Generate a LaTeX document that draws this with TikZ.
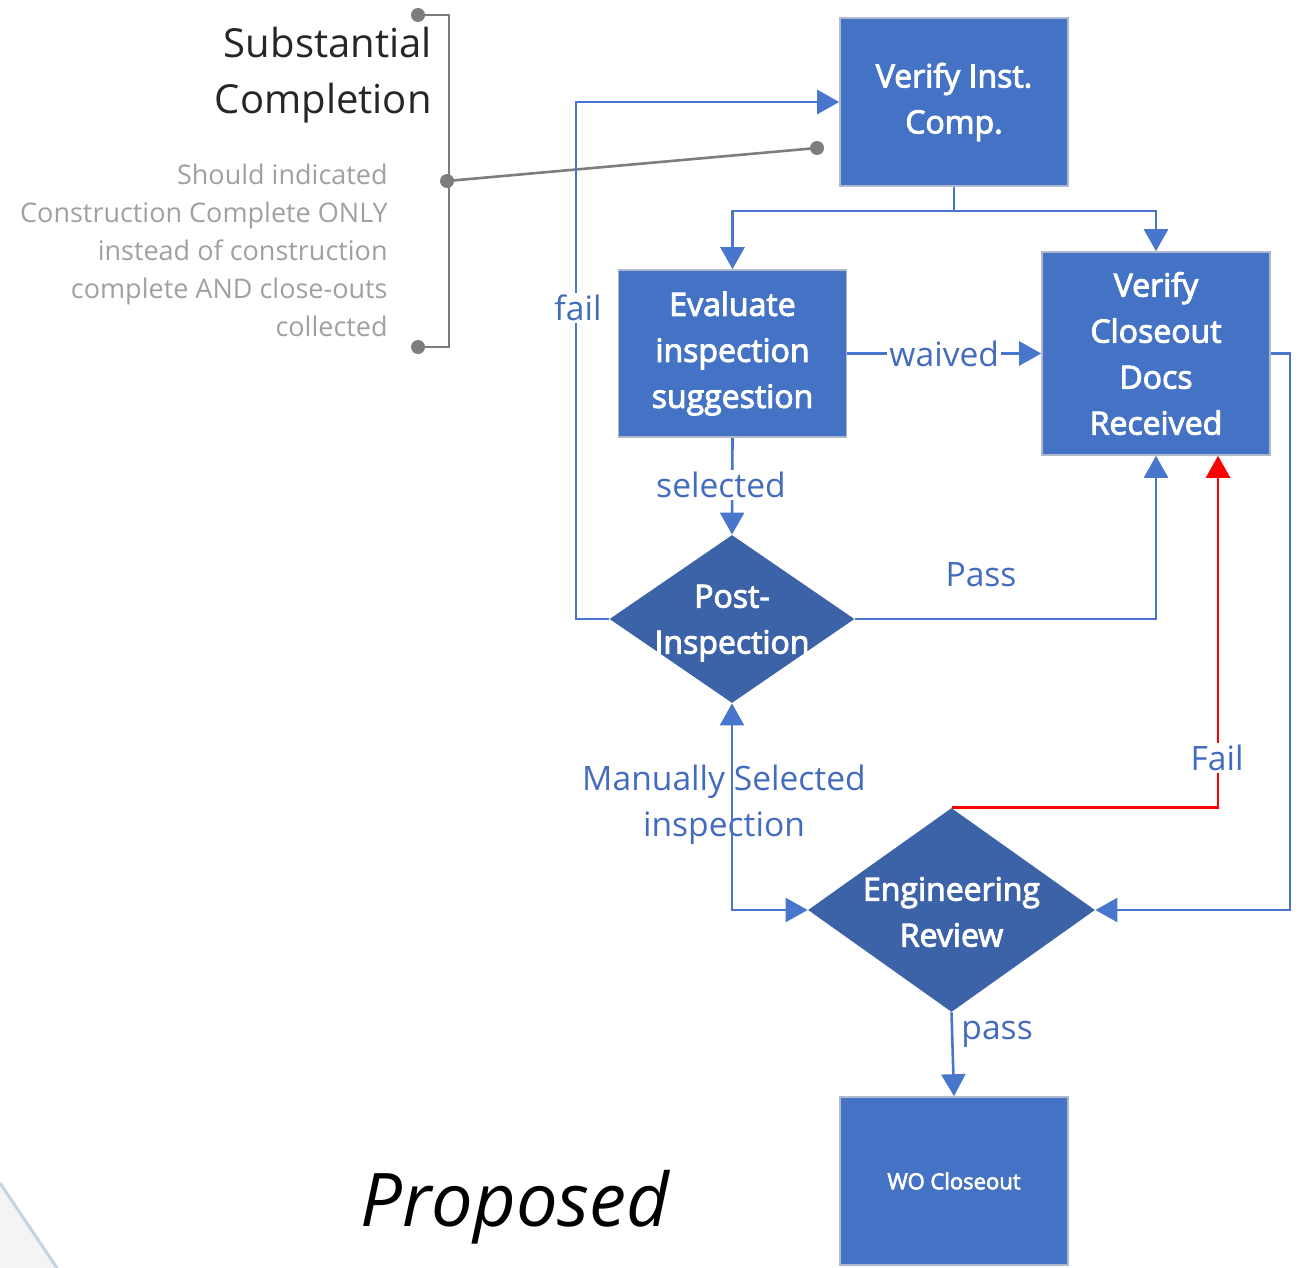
\documentclass[tikz,border=0pt]{standalone}
\usepackage{fontspec}
\setmainfont{Open Sans}
\newfontfamily\boxfont{Open Sans}[FakeBold=3]
\usetikzlibrary{shapes.geometric,arrows.meta}
\definecolor{boxblue}{RGB}{68,114,196}
\definecolor{diablue}{RGB}{60,98,168}
\definecolor{linkblue}{RGB}{72,118,204}
\definecolor{lblblue}{RGB}{68,108,190}
\definecolor{bordergray}{RGB}{175,185,205}
\definecolor{brgray}{RGB}{125,125,125}
\definecolor{cmtgray}{RGB}{160,160,160}
\definecolor{cornerline}{RGB}{195,212,225}
\definecolor{cornerfill}{RGB}{244,244,244}
\begin{document}
\begin{tikzpicture}[x=0.5pt,y=-0.5pt,
  procbox/.style={rectangle, fill=boxblue, draw=bordergray, line width=0.8pt,
    minimum width=114pt, minimum height=84pt, text=white, align=center,
    font=\boxfont\fontsize{16}{23}\selectfont, inner sep=0pt},
  dia/.style={diamond, fill=diablue, draw=none, inner sep=0pt},
  diatext/.style={text=white, align=center, font=\boxfont\fontsize{16}{23}\selectfont},
  link/.style={draw=linkblue, line width=1.3pt},
  redlink/.style={draw=red, line width=1.3pt},
  arr/.style={-{Triangle[length=11pt,width=12pt]}},
  lbl/.style={text=lblblue, font=\fontsize{16.8}{23}\selectfont, fill=white, inner sep=1pt},
  brline/.style={draw=brgray, line width=1.3pt},
  dot/.style={circle, fill=brgray, inner sep=0pt, minimum size=7pt},
]
\useasboundingbox (0,0) rectangle (1306,1268);

% corner decoration
\fill[cornerfill] (0,1183) -- (57,1268) -- (0,1268) -- cycle;
\draw[cornerline, line width=1.5pt] (0,1183) -- (57,1268);

% titles
\node[anchor=east, align=right, font=\fontsize{20}{28}\selectfont, text=black!85, inner sep=0pt] (sc) at (432,75) {Substantial\\Completion};
\node[anchor=east, align=right, font=\fontsize{13.5}{19}\selectfont, text=cmtgray, inner sep=0pt] (cmt) at (388,250) {Should indicated\\Construction Complete ONLY\\instead of construction\\complete AND close-outs\\collected};
\node[font=\itshape\fontsize{37}{40}\selectfont] (prop) at (515,1207) {Proposed};

% process nodes
\node[procbox] (vic) at (954,102) {\raisebox{-1.5pt}{Verify Inst.}\\\raisebox{-1.5pt}{Comp.}};
\node[procbox, minimum height=83.5pt] (eval) at (732.5,353.5) {Evaluate\\inspection\\suggestion};
\node[procbox, minimum height=101.5pt] (vcd) at (1156,353.5) {Verify\\Closeout\\Docs\\Received};
\node[dia, minimum width=122.5pt, minimum height=84pt] (post) at (732,619) {};
\node[diatext, yshift=-2pt] (posttxt) at (post) {Post-\\Inspection};
\node[dia, minimum width=143.5pt, minimum height=102pt] (eng) at (951.5,910) {};
\node[diatext, yshift=-1pt] (engtxt) at (eng) {Engineering\\Review};
\node[procbox, font=\boxfont\fontsize{11}{13}\selectfont] (wo) at (954,1181) {WO Closeout};

% bracket callout
\coordinate (bt) at (418,15);
\coordinate (bb) at (418,347);
\coordinate (bm) at (447,181);
\coordinate (bv) at (817,148);
\draw[brline] (bt) -- (449,15) -- (449,347) -- (bb);
\draw[brline] (bm) -- (bv);
\node[dot] at (bt) {};
\node[dot] at (bb) {};
\node[dot] at (bm) {};
\node[dot] at (bv) {};

% connectors
\draw[link,arr] (vic.south) -- ++(0,24) -| (eval.north);
\draw[link,arr] (vic.south) -- ++(0,24) -| (vcd.north);
\draw[link,arr] (eval.east) -- node[lbl]{waived} (vcd.west);
\draw[link,arr] (eval.south) -- (post.north);
\node[lbl] (sellbl) at (721,485) {selected};
\draw[link,arr] (post.west) -- ++(-33,0) |- (vic.west);
\node[lbl] (faillbl) at (578,308) {fail};
\draw[link,arr] (post.east) -| (vcd.south);
\node[lbl, fill=none] (passlbl) at (981,575) {Pass};
\draw[link,arr] (vcd.east) -- ++(19,0) |- (eng.east);
\draw[redlink,arr] (eng.north) -| ([xshift=31pt]vcd.south);
\node[lbl] (Faillbl) at (1217,758) {Fail};
\node[lbl, fill=none, align=center] (manlbl) at (724,805) {Manually Selected\\inspection};
\draw[link,{Triangle[length=11pt,width=12pt]}-{Triangle[length=11pt,width=12pt]}] (post.south) |- (eng.west);
\draw[link,arr] (eng.south) -- node[lbl, fill=none, anchor=west, pos=0.26, xshift=3pt]{pass} (wo.north);
\end{tikzpicture}
\end{document}
